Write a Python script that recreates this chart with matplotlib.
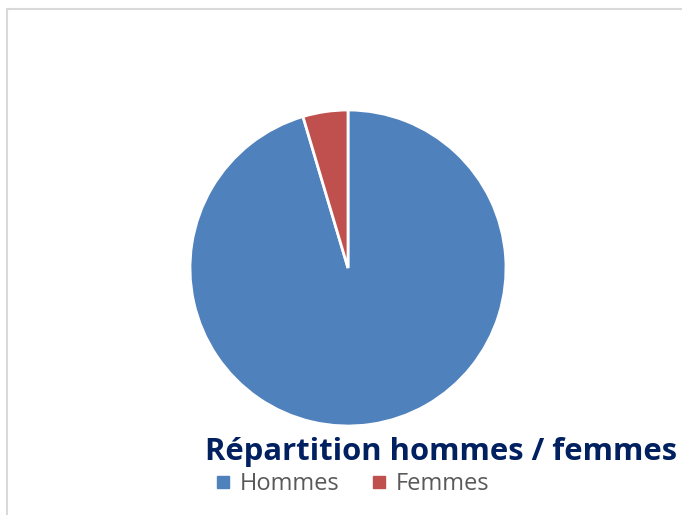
import matplotlib.pyplot as plt
from matplotlib.patches import Rectangle
from matplotlib.lines import Line2D

# --- Data ---
labels = ['Hommes', 'Femmes']
shares = [95.4, 4.6]
colors = ['#4f81bd', '#c0504d']
title = 'Répartition hommes / femmes'

W, H = 682, 515
fig = plt.figure(figsize=(W / 100, H / 100), dpi=100)

# light grey chart frame, cut by the image edge on the right and bottom
fig.patches.append(Rectangle((7 / W, -0.1), 1.2, 1 - 9.5 / H + 0.1, transform=fig.transFigure,
                             fill=False, edgecolor='#d9d9d9', linewidth=1.5))

# pie centred at (348, 268) px with radius 158 px
cx, cy, r = 348, 268, 158
ax = fig.add_axes([(cx - r) / W, (H - cy - r) / H, 2 * r / W, 2 * r / H])
ax.pie(shares, colors=colors, startangle=90, counterclock=False, radius=1,
       wedgeprops=dict(edgecolor='white', linewidth=2))
ax.set_xlim(-1, 1)
ax.set_ylim(-1, 1)
ax.set_aspect('equal')
ax.axis('off')

fig.text(205 / W, 1 - 460 / H, title, fontsize=22.3, fontweight='bold',
         color='#002060', family='Open Sans', va='baseline')

handles = [Line2D([], [], linestyle='none', marker='s', markersize=8, color=c) for c in colors]
fig.legend(handles, labels, loc='center left', bbox_to_anchor=(217 / W, 1 - 484 / H),
           ncol=2, frameon=False, handlelength=0.5, handletextpad=0.45, columnspacing=1.45,
           prop=dict(family='Open Sans', size=17), labelcolor='#595959',
           borderaxespad=0, borderpad=0)

fig.savefig('out.png', dpi=100)
